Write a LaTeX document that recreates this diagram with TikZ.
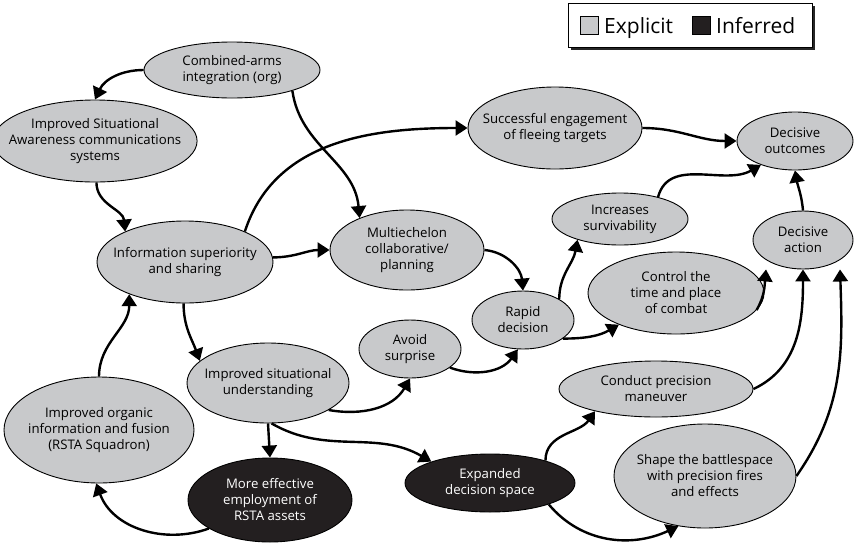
\documentclass[tikz,border=0pt]{standalone}
\usepackage{fontspec}
\setmainfont{Open Sans}
\usetikzlibrary{arrows.meta,shapes.geometric,shadows}

\definecolor{expgray}{RGB}{200,201,203}
\definecolor{infblack}{RGB}{35,31,32}
\newcommand{\nodefont}{\fontsize{13.2}{16}\selectfont}

\tikzset{
  explicit/.style={ellipse, draw, line width=0.9pt, fill=expgray, inner xsep=-14pt, inner ysep=-10pt, align=center, font=\nodefont},
  inferred/.style={explicit, fill=infblack, text=white},
  link/.style={line width=2.4pt, -{Triangle[length=12pt,width=15pt]}},
  keybox/.style={rectangle, draw, line width=0.8pt, minimum size=18pt, inner sep=0pt},
  keytext/.style={anchor=base west, inner sep=0pt, font=\fontsize{21}{24}\selectfont}
}

\begin{document}
\begin{tikzpicture}[x=1pt,y=-1pt]
   \useasboundingbox (0,0) rectangle (854,555);
   % legend
   \node[rectangle, draw, line width=1pt, fill=white, minimum width=244pt, minimum height=44pt,
         drop shadow={shadow xshift=3pt, shadow yshift=-3pt, fill=black!85, opacity=1}] (legend) at (690,25) {};
   \node[keybox, fill=expgray] (key_exp) at (589,25) {};
   \node[keytext] (txt_exp) at (604,33) {Explicit};
   \node[keybox, fill=infblack] (key_inf) at (701,25) {};
   \node[keytext] (txt_inf) at (716,33) {Inferred};

   \node[explicit, minimum width=176pt, minimum height=56pt] (comb) at (232,70) {Combined-arms\\integration (org)};
   \node[explicit, minimum width=182pt, minimum height=82pt] (sacomm) at (95,141) {Improved Situational\\Awareness communications\\systems};
   \node[explicit, minimum width=176pt, minimum height=82pt] (infosup) at (185,262) {Information superiority\\and sharing};
   \node[explicit, minimum width=154pt, minimum height=80pt] (multi) at (407,250) {Multiechelon\\collaborative/\\planning};
   \node[explicit, minimum width=174pt, minimum height=82pt] (engage) at (555,128) {Successful engagement\\of fleeing targets};
   \node[explicit, minimum width=116pt, minimum height=58pt] (outcome) at (795,141) {Decisive\\outcomes};
   \node[explicit, minimum width=136pt, minimum height=52pt] (surviv) at (620,219) {Increases\\survivability};
   \node[explicit, minimum width=100pt, minimum height=58pt] (action) at (803,240) {Decisive\\action};
   \node[explicit, minimum width=176pt, minimum height=82pt] (control) at (676,293) {Control the\\time and place\\of combat};
   \node[explicit, minimum width=102pt, minimum height=58pt] (rapid) at (523,320) {Rapid\\decision};
   \node[explicit, minimum width=102pt, minimum height=58pt] (avoid) at (410,349) {Avoid\\surprise};
   \node[explicit, minimum width=162pt, minimum height=80pt] (sitund) at (268,383) {Improved situational\\understanding};
   \node[explicit, minimum width=194pt, minimum height=56pt] (maneuver) at (656,389) {Conduct precision\\maneuver};
   \node[explicit, minimum width=190pt, minimum height=106pt] (organic) at (99,430) {Improved organic\\information and fusion\\(RSTA Squadron)};
   \node[inferred, minimum width=164pt, minimum height=84pt] (rsta) at (270,500) {More effective\\employment of\\RSTA assets};
   \node[inferred, minimum width=170pt, minimum height=58pt] (space) at (490,483) {Expanded\\decision space};
   \node[explicit, minimum width=182pt, minimum height=104pt] (shape) at (705,476) {Shape the battlespace\\with precision fires\\and effects};

    \path[link]
    (comb.180)    edge [out=180,in=65] (sacomm.north)
    (comb.-19)    edge [out=-82,in=95] (multi.146)
    (sacomm.-88)  edge [out=-90,in=95] (infosup.153)
    (infosup.3)   edge [out=0,in=180] (multi.west)
    (infosup.27)  edge [out=72,in=180] (engage.west)
    (infosup.-92) edge [out=-90,in=110] (sitund.162)
    (organic.north) edge [out=90,in=-90] (infosup.210)
    (engage.east) edge [out=0,in=180] (outcome.west)
    (surviv.30)   edge [out=75,in=210] (outcome.-145)
    (action.north) edge [out=95,in=-80] (outcome.south)
    (multi.east)  edge [out=-5,in=95] (rapid.north)
    (rapid.30)    edge [out=90,in=-100] (surviv.206)
    (rapid.-25)   edge [out=0,in=210] (control.209)
    (avoid.-25)   edge [out=-20,in=-125] (rapid.-100)
    (sitund.-24)  edge [out=-10,in=-120] (avoid.south)
    (sitund.south) edge (rsta.north)
    (sitund.-85)  edge [out=-30,in=150] (space.160)
    (rsta.205)    edge [out=200,in=-70] (organic.-93)
    (space.22)    edge [out=90,in=-125] (maneuver.200)
    (space.-20)   edge [out=-50,in=205] (shape.242)
    (control.-12) edge [out=60,in=-95] ([xshift=-37pt]action.south)
    (maneuver.east) edge [out=25,in=-90] (action.south)
    (shape.east)  edge [out=55,in=-88] ([xshift=37pt]action.south);

\end{tikzpicture}
\end{document}
